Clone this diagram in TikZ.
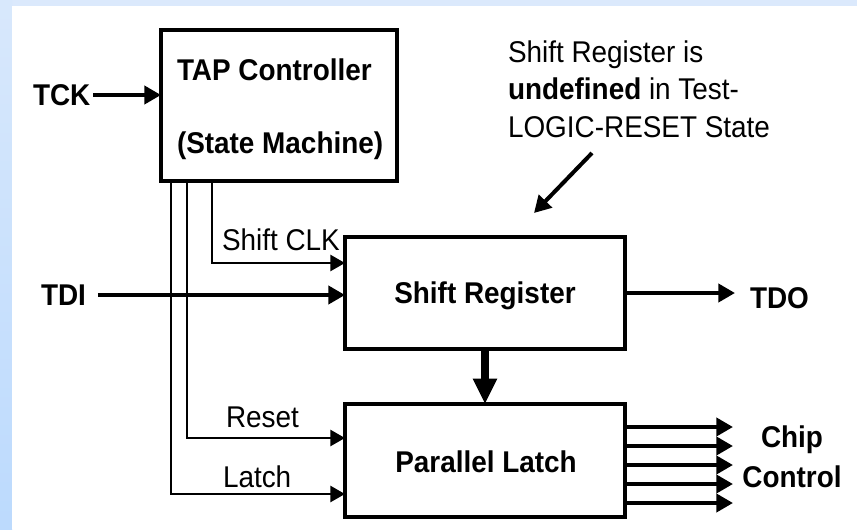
\documentclass[tikz,border=0pt]{standalone}
\usepackage{fontspec}
\setmainfont[FakeStretch=0.93]{Liberation Sans}
\usetikzlibrary{arrows.meta,calc}
\definecolor{topblue}{HTML}{DBE9FC}
\definecolor{leftblueA}{HTML}{D8E8FC}
\definecolor{leftblueB}{HTML}{BCDAFD}
\begin{document}
\begin{tikzpicture}[x=0.75pt,y=-0.75pt,
  lbl/.style={inner sep=0pt,outer sep=0pt,font=\fontsize{22.5}{26}\selectfont},
  blbl/.style={lbl,font=\fontsize{22.5}{26}\selectfont\bfseries},
  box/.style={draw,line width=3pt,inner sep=0pt,outer sep=0pt},
  thinsig/.style={line width=2pt,-{Triangle[length=11pt,width=12pt]}},
  medsig/.style={line width=3pt,-{Triangle[length=12.5pt,width=13.5pt]}},
  stemsig/.style={line width=6pt,-{Triangle[length=19pt,width=17pt]}}]
% background
\useasboundingbox (0,0) rectangle (857,529);
\fill[topblue] (0,0) rectangle (857,6);
\shade[top color=leftblueA,bottom color=leftblueB] (0,0) rectangle (12,529);
\fill[white] (12,6) rectangle (857,529);
% boxes
\node[box,minimum width=177pt,minimum height=113.25pt] (tap) at (279,105.5) {};
\node[box,minimum width=210pt,minimum height=84pt] (sr) at (485,293) {};
\node[box,minimum width=210pt,minimum height=84.75pt] (pl) at (485,460.5) {};
% box texts
\node[blbl,anchor=base west] (tapA) at (177,80) {TAP Controller};
\node[blbl,anchor=base west] (tapB) at (177,153) {(State Machine)};
\node[blbl,anchor=base] (srt) at (485,303) {Shift Register};
\node[blbl,anchor=base] (plt) at (486,472) {Parallel Latch};
% outer labels
\node[blbl,anchor=west] (tck) at (33,95) {TCK};
\node[blbl,anchor=west] (tdi) at (41,295) {TDI};
\node[blbl,anchor=base west] (tdo) at (750,308) {TDO};
\node[blbl,anchor=base] (chipA) at (792,447) {Chip};
\node[blbl,anchor=base] (chipB) at (792,487) {Control};
\node[lbl,anchor=base west] (clkl) at (222,250) {Shift CLK};
\node[lbl,anchor=base west] (rstl) at (226,427) {Reset};
\node[lbl,anchor=base west] (latl) at (223,487) {Latch};
% annotation
\node[lbl,anchor=base west] (noteA) at (508,62) {Shift Register is};
\node[lbl,anchor=base west] (noteB) at (508,99) {\textbf{undefined} in Test-};
\node[lbl,anchor=base west] (noteC) at (508,137) {LOGIC-RESET State};
% helper coordinates
\coordinate (xl) at (171,0);
\coordinate (xr) at (187,0);
\coordinate (xc) at (212,0);
\coordinate (yclk) at (0,263);
\coordinate (yrst) at (0,438);
\coordinate (ylat) at (0,494);
\coordinate (tdoend) at (735,293);
\coordinate (annA) at (592,153);
\coordinate (annB) at (534,213);
% connectors
\draw[medsig] ([xshift=2pt]tck.east) -- (tck.east -| tap.west);
\draw[medsig] ([xshift=9pt]tdi.east) -- (tdi.east -| sr.west);
\draw[medsig] (sr.east |- tdoend) -- (tdoend);
\draw[thinsig] (tap.south -| xc) |- (sr.west |- yclk);
\draw[thinsig] (tap.south -| xr) |- (pl.west |- yrst);
\draw[thinsig] (tap.south -| xl) |- (pl.west |- ylat);
\draw[stemsig] (sr.south) -- (pl.north);
\draw[medsig] (annA) -- (annB);
\foreach \yy [count=\i] in {427,446,465,484,503}{
  \coordinate (chipend\i) at (733,\yy);
  \draw[medsig] (pl.east |- chipend\i) -- (chipend\i);
}
\end{tikzpicture}
\end{document}
